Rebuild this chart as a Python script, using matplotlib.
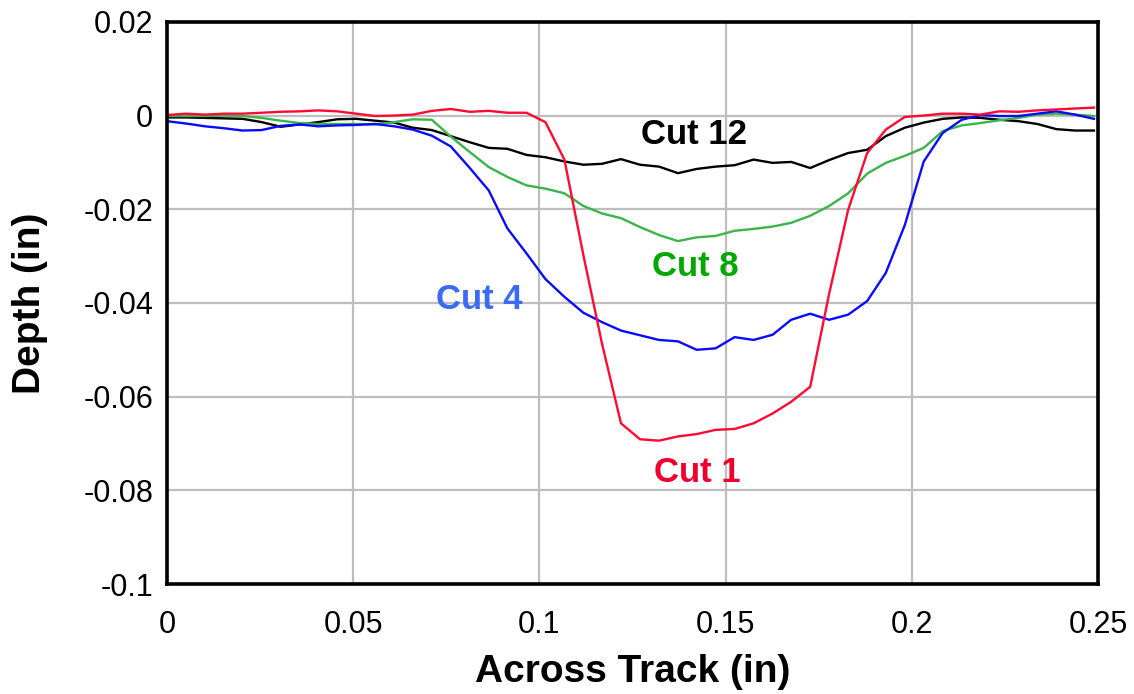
import numpy as np
import matplotlib
matplotlib.use("Agg")
from matplotlib import pyplot as plt
from matplotlib.ticker import FuncFormatter

plt.rcParams['font.family'] = ['Liberation Sans', 'DejaVu Sans']
plt.rcParams['axes.unicode_minus'] = False

# across-track positions (in), shared by all cuts
x_in = [0.0, 0.0051, 0.0102, 0.0152, 0.0203, 0.0254, 0.0305, 0.0356, 0.0406, 0.0457,
        0.0508, 0.0559, 0.0610, 0.0660, 0.0711, 0.0762, 0.0813, 0.0864, 0.0914, 0.0965,
        0.1016, 0.1067, 0.1118, 0.1168, 0.1219, 0.1270, 0.1321, 0.1372, 0.1422, 0.1473,
        0.1524, 0.1575, 0.1626, 0.1676, 0.1727, 0.1778, 0.1829, 0.1880, 0.1930, 0.1981,
        0.2032, 0.2083, 0.2134, 0.2184, 0.2235, 0.2286, 0.2337, 0.2388, 0.2438, 0.2489]

cut1 = [0.0001, 0.0004, 0.0002, 0.0004, 0.0004, 0.0006, 0.0008, 0.0009, 0.0011, 0.0009,
        0.0004, -0.0001, 0.0, 0.0002, 0.0010, 0.0014, 0.0008, 0.0010, 0.0006, 0.0006,
        -0.0014, -0.0094, -0.0298, -0.0487, -0.0657, -0.0691, -0.0694, -0.0685, -0.0680, -0.0671,
        -0.0669, -0.0657, -0.0636, -0.0611, -0.0579, -0.0380, -0.0201, -0.0080, -0.0030, -0.0003,
        0.0, 0.0004, 0.0004, 0.0002, 0.0009, 0.0008, 0.0011, 0.0013, 0.0015, 0.0017]

cut4 = [-0.0012, -0.0017, -0.0023, -0.0027, -0.0032, -0.0031, -0.0022, -0.0019, -0.0023, -0.0021,
        -0.0020, -0.0018, -0.0023, -0.0030, -0.0043, -0.0066, -0.0112, -0.0160, -0.0241, -0.0294,
        -0.0349, -0.0387, -0.0421, -0.0441, -0.0459, -0.0469, -0.0479, -0.0482, -0.0500, -0.0497,
        -0.0473, -0.0479, -0.0468, -0.0436, -0.0423, -0.0436, -0.0425, -0.0396, -0.0336, -0.0234,
        -0.0098, -0.0037, -0.0009, 0.0001, -0.0001, -0.0001, 0.0004, 0.0009, 0.0002, -0.0007]

cut8 = [-0.0001, -0.0001, -0.0001, 0.0, -0.0001, -0.0005, -0.0011, -0.0016, -0.0018, -0.0018,
        -0.0018, -0.0019, -0.0014, -0.0008, -0.0009, -0.0045, -0.0078, -0.0110, -0.0131, -0.0149,
        -0.0156, -0.0166, -0.0193, -0.0209, -0.0219, -0.0238, -0.0255, -0.0268, -0.0260, -0.0257,
        -0.0246, -0.0242, -0.0237, -0.0229, -0.0214, -0.0193, -0.0166, -0.0124, -0.0101, -0.0086,
        -0.0069, -0.0033, -0.0021, -0.0016, -0.0010, -0.0005, 0.0002, 0.0004, 0.0002, -0.0001]

cut12 = [-0.0004, -0.0004, -0.0005, -0.0006, -0.0007, -0.0014, -0.0024, -0.0019, -0.0014, -0.0008,
         -0.0007, -0.0011, -0.0015, -0.0026, -0.0031, -0.0044, -0.0057, -0.0069, -0.0071, -0.0084,
         -0.0089, -0.0098, -0.0105, -0.0103, -0.0093, -0.0105, -0.0109, -0.0123, -0.0114, -0.0109,
         -0.0106, -0.0094, -0.0101, -0.0099, -0.0112, -0.0095, -0.0080, -0.0073, -0.0044, -0.0026,
         -0.0015, -0.0007, -0.0004, -0.0005, -0.0009, -0.0012, -0.0018, -0.0029, -0.0032, -0.0032]

labels = ["Cut 12", "Cut 8", "Cut 4", "Cut 1"]
label_pos = [(0.1414, -0.0040), (0.1419, -0.0323), (0.0838, -0.0392), (0.1424, -0.0762)]

fig = plt.figure(figsize=(11.34, 6.94), dpi=100)
ax = fig.add_axes([0.1473, 0.1585, 0.821, 0.81])

# draw so red ends up on top like the original
ax.plot(x_in, cut12, color="#000000", lw=1.7, zorder=3)
ax.plot(x_in, cut8, color="#3AB54A", lw=1.7, zorder=3)
ax.plot(x_in, cut4, color="#0A0AFF", lw=1.7, zorder=3)
ax.plot(x_in, cut1, color="#FF0A32", lw=1.7, zorder=3)

label_colors = ["#000000", "#00A800", "#3A6BF5", "#F0002D"]
for txt, (lx, ly), c in zip(labels, label_pos, label_colors):
    ax.text(lx, ly, txt, color=c, fontsize=25, fontweight="bold",
            ha="center", va="center", zorder=4)

ax.set_xlim(0, 0.25)
ax.set_ylim(-0.1, 0.02)
ax.set_xticks([0, 0.05, 0.1, 0.15, 0.2, 0.25])
ax.set_yticks([-0.1, -0.08, -0.06, -0.04, -0.02, 0, 0.02])
fmt = FuncFormatter(lambda v, p: "0" if abs(v) < 1e-9 else ("%g" % round(v, 3)))
ax.xaxis.set_major_formatter(fmt)
ax.yaxis.set_major_formatter(fmt)
ax.tick_params(length=0, labelsize=22)
ax.tick_params(axis="x", pad=19)
ax.tick_params(axis="y", pad=10)
ax.grid(True, color="#BEBEBE", lw=1.6, zorder=0)
ax.set_axisbelow(True)
for s in ax.spines.values():
    s.set_linewidth(2.6)
    s.set_zorder(5)

ax.set_xlabel("Across Track (in)", fontsize=28, fontweight="bold")
ax.set_ylabel("Depth (in)", fontsize=28, fontweight="bold")
ax.xaxis.set_label_coords(0.5, -0.125)
ax.yaxis.set_label_coords(-0.128, 0.5)

fig.savefig("out.png", dpi=100)
